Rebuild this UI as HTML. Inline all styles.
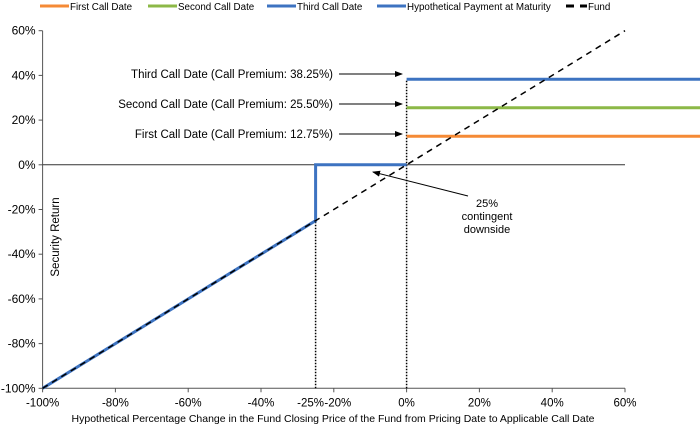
<!DOCTYPE html>
<html><head><meta charset="utf-8"><style>
body{margin:0;background:#fff}
svg{display:block;font-family:"Liberation Sans",Arial,sans-serif}
</style></head><body>
<svg id="chart" width="700" height="427" viewBox="0 0 700 427">
<defs><marker id="ah" markerWidth="8" markerHeight="8" refX="7" refY="4" orient="auto" markerUnits="userSpaceOnUse"><path d="M0,1 L8,4 L0,7 Z" fill="#000"/></marker></defs>
<g id="legend" font-size="9.8" fill="#000"></g>
<g id="axes"></g>
<g id="marks"></g>
<g id="ann" font-size="11.5"></g>
</svg>
<script>
const xTicks=[-100,-80,-60,-40,-25,-20,0,20,40,60];
const xTickLabels=["-100%","-80%","-60%","-40%","-25%","-20%","0%","20%","40%","60%"];
const yTicks=[60,40,20,0,-20,-40,-60,-80,-100];
const callNames=["First Call Date","Second Call Date","Third Call Date"];
const callPremiums=[12.75,25.50,38.25];
const callColors=["#f58a35","#8cb847","#3d73c1"];
const paymentX=[-100,-25,-25,0];
const paymentY=[-100,-25,0,0];
const fundX=[-100,60];
const fundY=[-100,60];
const threshold=-25;
const NS="http://www.w3.org/2000/svg";
const X=v=>42.6+(v+100)*3.64;
const Y=v=>164.8-v*2.235;
function el(tag,attrs,parent,text){const e=document.createElementNS(NS,tag);for(const k in attrs)e.setAttribute(k,attrs[k]);if(text!==undefined)e.textContent=text;parent.appendChild(e);return e;}
const axes=document.getElementById('axes'),marks=document.getElementById('marks'),ann=document.getElementById('ann'),leg=document.getElementById('legend');
let a=el('line',{x1:X(-100),y1:Y(60),x2:X(-100),y2:Y(-100),stroke:'#555','stroke-width':1},axes);


a=el('line',{x1:X(-100),y1:Y(-100),x2:X(60),y2:Y(-100),stroke:'#555','stroke-width':1},axes);


a=el('line',{x1:X(-100),y1:Y(0),x2:X(60),y2:Y(0),stroke:'#333','stroke-width':1},axes);


yTicks.forEach(v=>{el('line',{x1:X(-100)-4,y1:Y(v),x2:X(-100),y2:Y(v),stroke:'#555'},axes);
 const t=el('text',{x:X(-100)-7,y:Y(v)+4,'text-anchor':'end','font-size':12},axes,v+'%');
 
 });
xTicks.forEach((v,i)=>{if(v!==-25)el('line',{x1:X(v),y1:Y(-100),x2:X(v),y2:Y(-100)+4,stroke:'#555'},axes);
 let dx=0; if(v===-25)dx=-5; if(v===-20)dx=4;
 const t=el('text',{x:X(v)+dx,y:Y(-100)+18,'text-anchor':'middle','font-size':11.5},axes,xTickLabels[i]);
 
 });
let t=el('text',{x:333,y:422,'text-anchor':'middle','font-size':10.5},axes,'Hypothetical Percentage Change in the Fund Closing Price of the Fund from Pricing Date to Applicable Call Date');


t=el('text',{x:0,y:0,'text-anchor':'middle','font-size':11.5,transform:'translate(59,237) rotate(-90)'},axes,'Security Return');


let d=el('line',{x1:X(threshold),y1:Y(-100),x2:X(threshold),y2:Y(0),stroke:'#000','stroke-width':1.5,'stroke-dasharray':'1.5,1.5'},marks);


d=el('line',{x1:X(0),y1:Y(-100),x2:X(0),y2:Y(Math.max(...callPremiums)),stroke:'#000','stroke-width':1.5,'stroke-dasharray':'1.5,1.5'},marks);


callPremiums.forEach((p,i)=>{const l=el('line',{x1:X(0),y1:Y(p),x2:700,y2:Y(p),stroke:callColors[i],'stroke-width':3},marks);
 
 });
let pl=el('polyline',{points:paymentX.map((v,i)=>X(v)+','+Y(paymentY[i])).join(' '),fill:'none',stroke:'#3d73c1','stroke-width':3},marks);


let fl=el('line',{x1:X(fundX[0]),y1:Y(fundY[0]),x2:X(fundX[1]),y2:Y(fundY[1]),stroke:'#000','stroke-width':1.5,'stroke-dasharray':'6,5'},marks);


const annY=[134,104,74];
callPremiums.forEach((p,i)=>{const tx=el('text',{x:333,y:annY[i]+4,'text-anchor':'end'},ann,callNames[i]+' (Call Premium: '+p.toFixed(2)+'%)');
 
 
 const ar=el('line',{x1:339,y1:annY[i],x2:402,y2:annY[i],stroke:'#000','stroke-width':1,'marker-end':'url(#ah)'},ann);
 
 });
const lines=["25%","contingent","downside"];
lines.forEach((s,i)=>{const tx=el('text',{x:487,y:207+i*13,'text-anchor':'middle','font-size':11},ann,s);
 
 });
let ar=el('line',{x1:468,y1:196,x2:373,y2:172,stroke:'#000','stroke-width':1,'marker-end':'url(#ah)'},ann);


const legItems=[["First Call Date","#f58a35",40,false],["Second Call Date","#8cb847",148,false],["Third Call Date","#3d73c1",267,false],["Hypothetical Payment at Maturity","#3d73c1",377,false],["Fund","#000",566,true]];
legItems.forEach(it=>{const g=el('g',{},leg);
 
 
 if(it[3]){el('line',{x1:it[2],y1:6,x2:it[2]+8,y2:6,stroke:'#000','stroke-width':3},g);el('line',{x1:it[2]+14,y1:6,x2:it[2]+21,y2:6,stroke:'#000','stroke-width':3},g);el('text',{x:it[2]+22,y:10},g,it[0]);}
 else{el('line',{x1:it[2],y1:6,x2:it[2]+29,y2:6,stroke:it[1],'stroke-width':3},g);el('text',{x:it[2]+30,y:10},g,it[0]);}});
</script>
</body></html>
